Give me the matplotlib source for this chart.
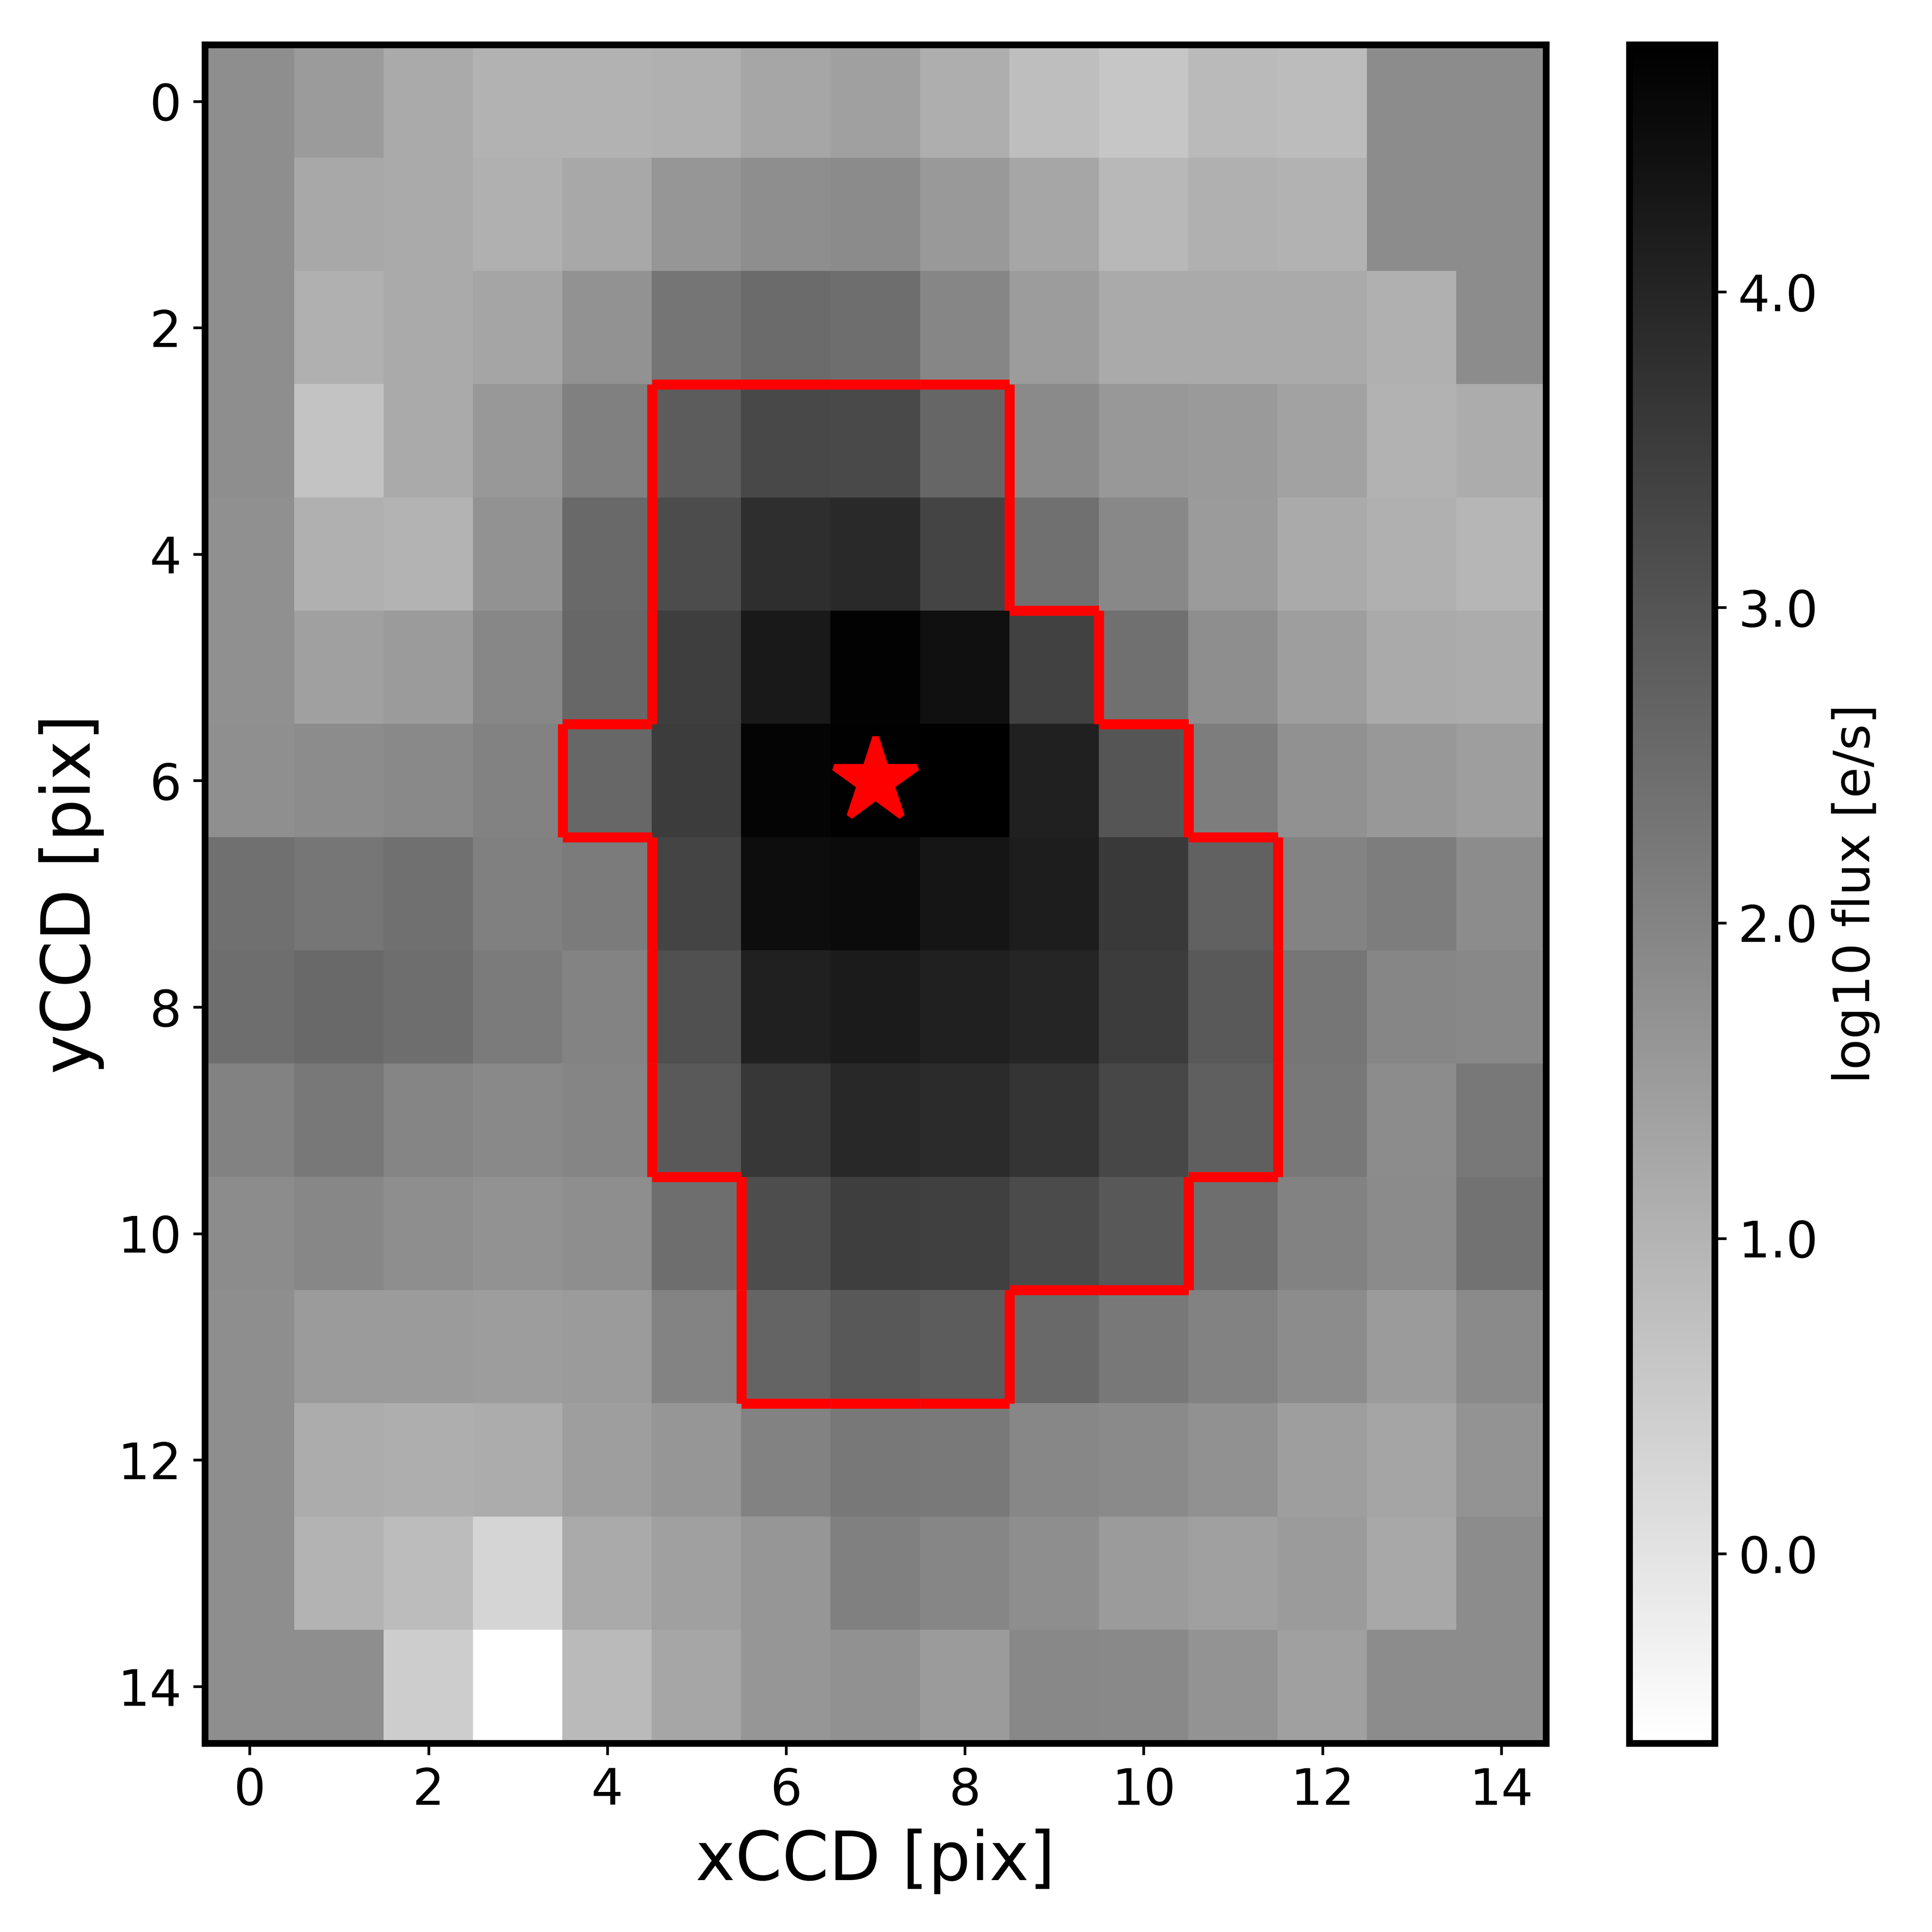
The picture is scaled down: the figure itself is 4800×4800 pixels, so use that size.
#!/usr/bin/env python3

"""
TESS-style postage stamp with aperture outline
"""

import matplotlib
matplotlib.use("Agg")
import matplotlib.pyplot as plt
import numpy as np

# log10 flux per pixel, rows are yCCD 0-14
flux = np.array([
    [1.79, 1.51, 1.19, 1.03, 1.03, 1.07, 1.28, 1.41, 1.11, 0.77, 0.60, 0.86, 0.81, 1.83, 1.83],
    [1.79, 1.24, 1.19, 1.07, 1.24, 1.62, 1.79, 1.85, 1.55, 1.28, 0.90, 1.07, 1.03, 1.83, 1.83],
    [1.79, 1.07, 1.19, 1.30, 1.70, 2.31, 2.53, 2.46, 1.95, 1.49, 1.19, 1.19, 1.19, 1.07, 1.83],
    [1.79, 0.67, 1.19, 1.58, 2.08, 2.84, 3.26, 3.22, 2.63, 1.87, 1.58, 1.53, 1.36, 1.03, 1.15],
    [1.74, 1.07, 0.98, 1.70, 2.55, 3.18, 3.81, 3.90, 3.35, 2.42, 1.91, 1.51, 1.19, 1.07, 0.94],
    [1.74, 1.41, 1.51, 1.93, 2.61, 3.48, 4.23, 4.72, 4.42, 3.41, 2.42, 1.79, 1.45, 1.19, 1.15],
    [1.77, 1.83, 1.89, 2.04, 2.61, 3.52, 4.68, 4.74, 4.78, 4.11, 2.99, 2.15, 1.72, 1.58, 1.45],
    [2.42, 2.29, 2.42, 2.08, 2.19, 3.35, 4.49, 4.55, 4.34, 4.17, 3.56, 2.74, 2.02, 2.15, 1.83],
    [2.46, 2.57, 2.46, 2.19, 2.00, 3.10, 4.07, 4.21, 4.07, 4.00, 3.52, 2.88, 2.29, 1.95, 1.91],
    [2.04, 2.25, 1.98, 1.89, 1.98, 2.88, 3.62, 3.94, 3.86, 3.67, 3.29, 2.78, 2.25, 1.83, 2.25],
    [1.83, 1.93, 1.79, 1.70, 1.79, 2.46, 3.16, 3.47, 3.43, 3.20, 2.93, 2.46, 2.04, 1.85, 2.35],
    [1.79, 1.51, 1.51, 1.47, 1.51, 2.00, 2.67, 2.93, 2.84, 2.57, 2.25, 2.04, 1.83, 1.51, 1.87],
    [1.79, 1.15, 1.11, 1.15, 1.45, 1.62, 2.04, 2.25, 2.21, 1.93, 1.87, 1.72, 1.45, 1.30, 1.66],
    [1.79, 0.98, 0.81, 0.29, 1.19, 1.41, 1.62, 2.08, 1.95, 1.79, 1.51, 1.41, 1.51, 1.24, 1.83],
    [1.79, 1.79, 0.46, -0.60, 0.86, 1.28, 1.62, 1.72, 1.51, 1.91, 1.89, 1.66, 1.41, 1.83, 1.83],
])

# first and last aperture column for each row
ap_rows = [3, 4, 5, 6, 7, 8, 9, 10, 11]
ap_start = [5, 5, 5, 4, 5, 5, 5, 6, 6]
ap_end = [8, 8, 9, 10, 11, 11, 11, 10, 8]

star_x = 7
star_y = 6

vmin = -0.60
vmax = 4.784

mask = np.zeros(flux.shape, dtype=bool)
for r, a, b in zip(ap_rows, ap_start, ap_end):
    mask[r, a:b + 1] = True

fig = plt.figure(figsize=(8, 8), dpi=600)
ax = fig.add_axes([0.1061, 0.0978, 0.6941, 0.8791])
cax = fig.add_axes([0.8433, 0.0978, 0.0442, 0.8791])

im = ax.imshow(flux, cmap="gray_r", vmin=vmin, vmax=vmax, aspect="auto",
               interpolation="nearest")

# aperture outline, one segment per mask edge
n = flux.shape[0]
for i in range(n):
    for j in range(n):
        if not mask[i, j]:
            continue
        if i == 0 or not mask[i - 1, j]:
            ax.plot([j - 0.5, j + 0.5], [i - 0.5, i - 0.5], color="red", lw=3, solid_capstyle="butt")
        if i == n - 1 or not mask[i + 1, j]:
            ax.plot([j - 0.5, j + 0.5], [i + 0.5, i + 0.5], color="red", lw=3, solid_capstyle="butt")
        if j == 0 or not mask[i, j - 1]:
            ax.plot([j - 0.5, j - 0.5], [i - 0.5, i + 0.5], color="red", lw=3, solid_capstyle="butt")
        if j == n - 1 or not mask[i, j + 1]:
            ax.plot([j + 0.5, j + 0.5], [i - 0.5, i + 0.5], color="red", lw=3, solid_capstyle="butt")

ax.plot(star_x, star_y, marker="*", color="red", markersize=26, markeredgewidth=2)

ax.set_xlim(-0.5, 14.5)
ax.set_ylim(14.5, -0.5)
ax.set_xticks(range(0, 15, 2))
ax.set_yticks(range(0, 15, 2))
ax.tick_params(labelsize=15)
ax.set_xlabel("xCCD [pix]", fontsize=20)
ax.set_ylabel("yCCD [pix]", fontsize=20)
for s in ax.spines.values():
    s.set_linewidth(2)

cb = fig.colorbar(im, cax=cax)
cb.set_ticks([0, 1, 2, 3, 4])
cb.set_ticklabels(["0.0", "1.0", "2.0", "3.0", "4.0"])
cb.ax.tick_params(labelsize=15)
cb.set_label("log10 flux [e/s]", fontsize=15)
cb.outline.set_linewidth(2)

fig.savefig("out.png")
plt.close(fig)
